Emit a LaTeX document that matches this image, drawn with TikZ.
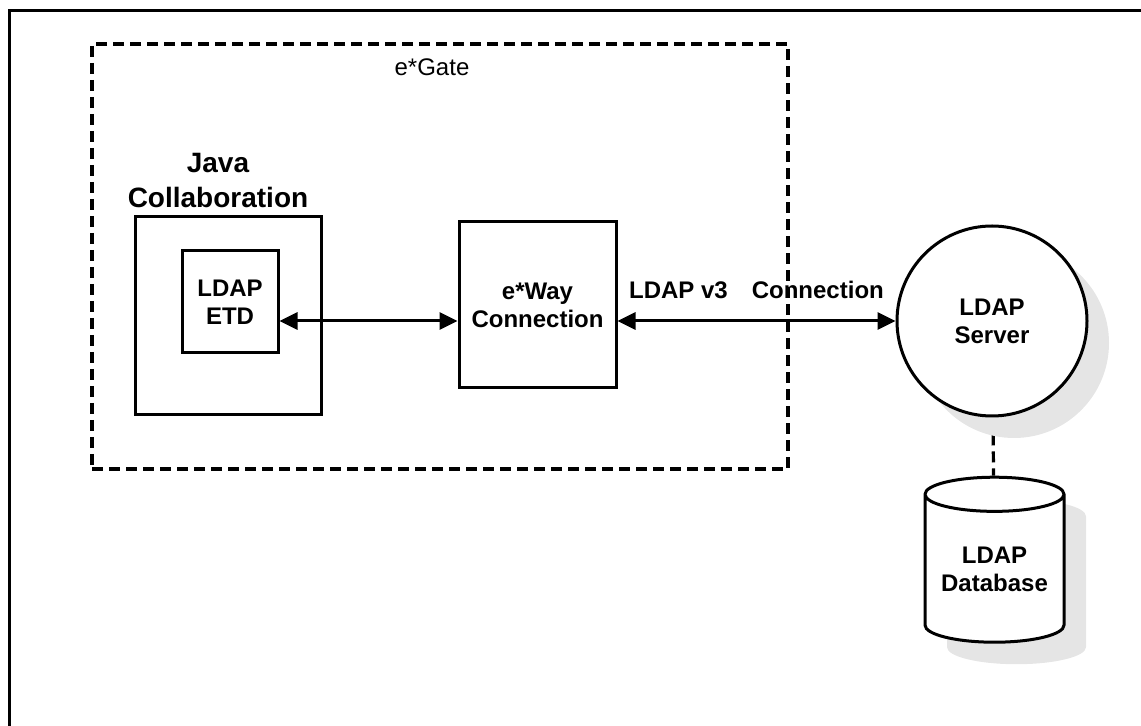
\documentclass[tikz,border=0pt]{standalone}
\usepackage{fontspec}
\setmainfont{Liberation Sans}
\usetikzlibrary{arrows.meta, positioning, shapes.geometric, shadows, backgrounds}

\begin{document}
\begin{tikzpicture}[x=0.5pt, y=-0.5pt,
    font=\bfseries\fontsize{12}{14}\selectfont,
    box/.style={draw, line width=1.5pt, align=center, inner sep=0pt},
    shade/.style={drop shadow={shadow xshift=11pt, shadow yshift=-11pt,
                  fill=black!10, opacity=1}},
    link/.style={line width=1.6pt, dash pattern=on 5.5pt off 3pt},
    arr/.style={{Triangle[length=9pt, width=8.5pt]}-{Triangle[length=9pt, width=8.5pt]},
                line width=1.5pt}]
    \useasboundingbox (0,0) rectangle (1141,726);
    \draw[line width=1.5pt] (9.5,726) -- (9.5,10.5) -- (1141,10.5);
    \node[box, link, minimum width=348pt, minimum height=212.5pt] (gate) at (440,256.5) {};
    \node[font=\fontsize{12}{14}\selectfont] (gatelbl) at (432,67) {e*Gate};
    \node[box, minimum width=93.25pt, minimum height=99pt] (java) at (228.5,316) {};
    \node[font=\bfseries\fontsize{14}{17.5}\selectfont, align=center] (javalbl) at (218,181)
         {Java\\Collaboration};
    \node[box, minimum width=48pt, minimum height=51pt] (etd) at (230,302) {LDAP\\ETD};
    \node[box, minimum width=78.5pt, minimum height=83pt] (eway) at (537.5,305)
         {e*Way\\Connection};
    \node[box, circle, fill=white, shade, minimum size=95pt] (srv) at (992,321)
         {LDAP\\Server};
    \node[box, cylinder, shape border rotate=90, aspect=0.32, fill=white, shade,
          minimum width=69.5pt, minimum height=82.5pt] (db) at (994.5,569)
         {LDAP\\Database};
    \draw[arr] (etd.east |- srv.west) -- (eway.west |- srv.west);
    \draw[arr] (eway.east |- srv.west) -- node[above=7pt] (proto) {LDAP v3\quad Connection}
         (srv.west);
    \begin{scope}[on background layer]
      \draw[link] (srv) -- (db);
    \end{scope}
\end{tikzpicture}
\end{document}
